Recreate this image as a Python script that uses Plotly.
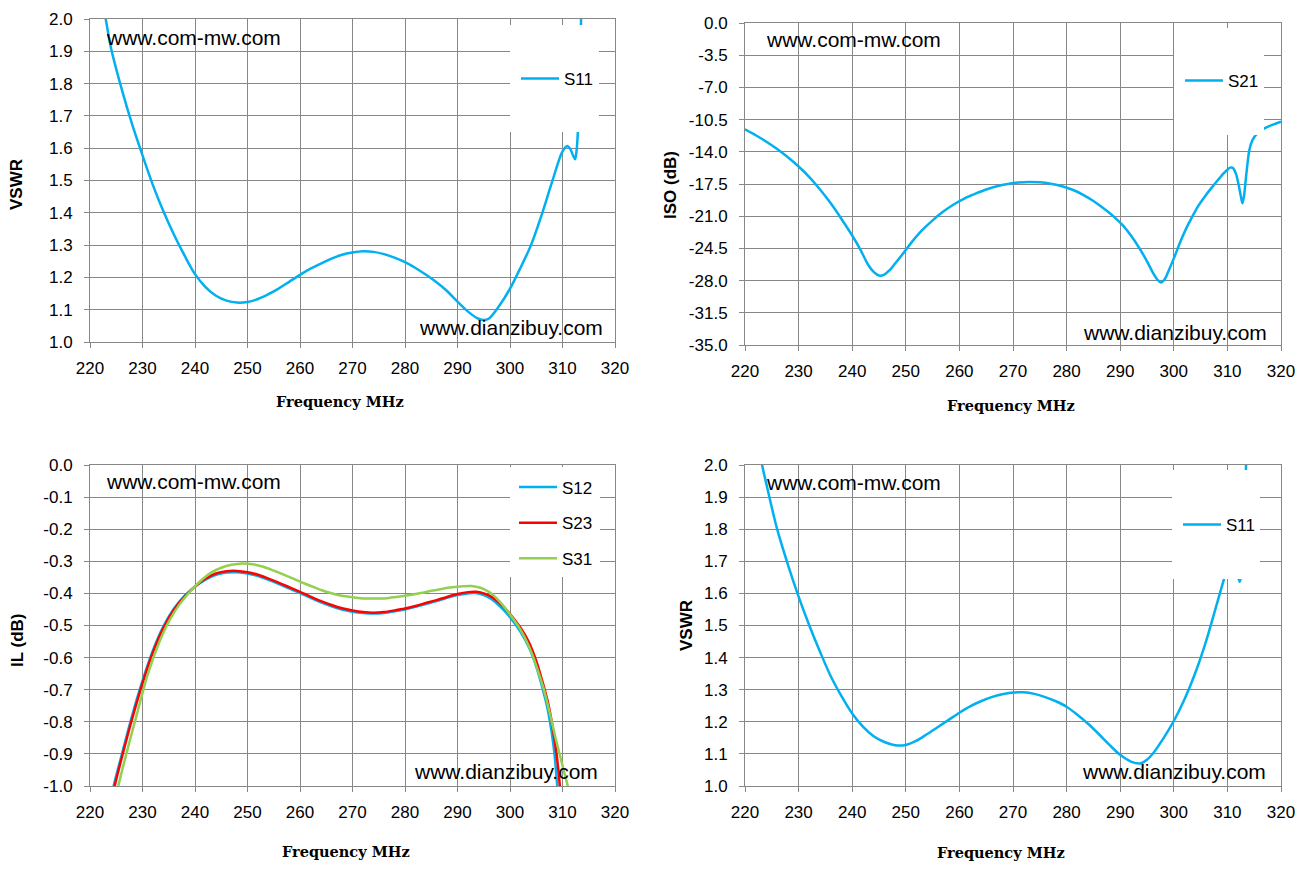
import plotly.graph_objects as go

# page is 1310x869; the html body has an 8px margin, so the figure is drawn 8px in
OFF = 8
W, H = 1310 - 2 * OFF, 869 - 2 * OFF

# ---------------- data ----------------
freq_ticks = [220, 230, 240, 250, 260, 270, 280, 290, 300, 310, 320]
vswr_ticks = [1.0, 1.1, 1.2, 1.3, 1.4, 1.5, 1.6, 1.7, 1.8, 1.9, 2.0]
iso_ticks = [-35.0, -31.5, -28.0, -24.5, -21.0, -17.5, -14.0, -10.5, -7.0, -3.5, 0.0]
il_ticks = [-1.0, -0.9, -0.8, -0.7, -0.6, -0.5, -0.4, -0.3, -0.2, -0.1, 0.0]

# Top-left VSWR S11
f_s11_a = [222.7, 223.0, 224, 226, 228, 230, 232, 234, 236, 238, 240, 242, 244, 246, 248,
           250, 252, 254, 256, 258, 260, 262, 264, 266, 268, 270, 272, 274, 276, 278, 280,
           282, 284, 286, 288, 290, 292, 294, 295, 296, 298, 300, 302, 304, 306, 308, 310,
           310.9, 311.5, 312.0, 312.4, 312.7, 312.95, 313.3, 313.7]
v_s11_a = [2.03, 2.00, 1.91, 1.785, 1.675, 1.578, 1.485, 1.404, 1.332, 1.268, 1.210, 1.170,
           1.143, 1.128, 1.122, 1.124, 1.133, 1.148, 1.166, 1.187, 1.208, 1.227, 1.243, 1.258,
           1.270, 1.277, 1.281, 1.279, 1.272, 1.261, 1.247, 1.229, 1.208, 1.185, 1.158, 1.125,
           1.094, 1.072, 1.068, 1.073, 1.113, 1.165, 1.230, 1.300, 1.392, 1.495, 1.590,
           1.607, 1.597, 1.578, 1.566, 1.595, 1.660, 1.85, 2.10]

# Top-right ISO S21
f_s21 = [220, 222, 224, 226, 228, 230, 232, 234, 236, 238, 240, 241.5, 243, 244, 245, 246,
         247, 248, 249.5, 251, 253, 255, 257, 259, 261, 263, 265, 267, 269, 271, 273, 275,
         277, 279, 281, 283, 285, 287, 289, 290.5, 292, 293.5, 295, 296.2, 297, 297.6,
         298.3, 299.2, 300.1, 301.2, 302.3, 303.4, 304.6, 305.8, 307, 308.2, 309.3, 310.0,
         310.5, 311.0, 311.6, 312.1, 312.5, 312.8, 313.1, 313.5, 314.1, 314.7, 315.6,
         316.9, 318.5, 320]
iso_s21 = [-11.56, -12.2, -12.9, -13.7, -14.6, -15.6, -16.75, -18.1, -19.6, -21.3, -23.1,
           -24.6, -26.3, -27.05, -27.45, -27.35, -26.85, -26.15, -25.05, -23.9, -22.55,
           -21.45, -20.5, -19.7, -19.05, -18.55, -18.1, -17.75, -17.5, -17.33, -17.27,
           -17.32, -17.47, -17.72, -18.1, -18.65, -19.35, -20.2, -21.15, -22.0, -23.1,
           -24.4, -25.9, -27.25, -27.95, -28.2, -27.85, -26.7, -25.45, -23.8, -22.35,
           -21.1, -19.85, -18.85, -17.95, -17.1, -16.35, -15.95, -15.72, -15.75, -16.4,
           -17.6, -18.8, -19.6, -18.8, -16.6, -13.8, -12.7, -12.0, -11.45, -11.05, -10.72]

# Bottom-left IL
f_s12 = [224.3, 224.5, 226, 228, 230, 232, 234, 236, 238, 240, 242, 244, 246, 248, 250,
         252, 254, 256, 258, 260, 262, 264, 266, 268, 270, 272, 274, 276, 278, 280, 282,
         284, 286, 288, 290, 292, 293.5, 295, 296.5, 298, 300, 302, 303.6, 305, 306.1,
         307.2, 308, 308.5, 309.0, 309.1]
il_s12 = [-1.02, -1.0, -0.905, -0.782, -0.672, -0.577, -0.502, -0.447, -0.408, -0.379,
          -0.357, -0.342, -0.335, -0.334, -0.338, -0.346, -0.358, -0.371, -0.385, -0.399,
          -0.414, -0.428, -0.440, -0.450, -0.457, -0.461, -0.463, -0.461, -0.456, -0.450,
          -0.442, -0.433, -0.424, -0.414, -0.405, -0.400, -0.399, -0.405, -0.418, -0.439,
          -0.474, -0.520, -0.568, -0.628, -0.690, -0.763, -0.840, -0.905, -1.0, -1.02]

f_s23 = [224.5, 224.7, 226, 228, 230, 232, 234, 236, 238, 240, 242, 244, 246, 248, 250,
         252, 254, 256, 258, 260, 262, 264, 266, 268, 270, 272, 274, 276, 278, 280, 282,
         284, 286, 288, 290, 292, 293.5, 295, 296.5, 298, 300, 302, 303.6, 305, 306.1,
         307.2, 308.1, 308.9, 309.5, 309.6]
il_s23 = [-1.02, -1.0, -0.915, -0.792, -0.680, -0.583, -0.507, -0.451, -0.410, -0.378,
          -0.354, -0.338, -0.331, -0.330, -0.334, -0.342, -0.354, -0.367, -0.381, -0.395,
          -0.410, -0.424, -0.436, -0.446, -0.453, -0.458, -0.460, -0.458, -0.453, -0.447,
          -0.439, -0.430, -0.421, -0.411, -0.402, -0.396, -0.395, -0.400, -0.411, -0.430,
          -0.464, -0.507, -0.552, -0.610, -0.670, -0.738, -0.815, -0.905, -1.0, -1.02]

f_s31 = [225.2, 225.4, 227, 229, 231, 233, 235, 237, 239, 241, 243, 245, 247, 249, 251,
         253, 255, 257, 259, 261, 263, 265, 267, 269, 271, 273, 275, 277, 279, 281, 283,
         285, 287, 289, 291, 292.6, 294, 295.2, 296.5, 298, 300, 302, 303.6, 305, 306.5,
         307.6, 308.7, 309.9, 311.0, 311.1]
il_s31 = [-1.02, -1.0, -0.895, -0.772, -0.652, -0.560, -0.488, -0.435, -0.395, -0.362,
          -0.336, -0.320, -0.311, -0.307, -0.309, -0.317, -0.329, -0.342, -0.356, -0.370,
          -0.383, -0.395, -0.404, -0.410, -0.414, -0.416, -0.416, -0.414, -0.410, -0.405,
          -0.399, -0.392, -0.386, -0.381, -0.378, -0.377, -0.381, -0.388, -0.401, -0.425,
          -0.466, -0.513, -0.565, -0.625, -0.702, -0.775, -0.852, -0.930, -1.0, -1.01]

# Bottom-right VSWR S11
f_s11_b = [222.9, 223.2, 224, 226, 228, 230, 232, 234, 236, 238, 240, 242, 244, 246, 248,
           250, 252, 254, 256, 258, 260, 262, 264, 266, 268, 270, 272, 274, 276, 278, 280,
           282, 284, 286, 288, 290, 292, 293.75, 295, 296, 298, 300, 302, 304, 306, 308,
           309.4, 310.2, 310.9, 311.6, 312.3, 312.8, 313.2, 313.6]
v_s11_b = [2.04, 2.00, 1.94, 1.80, 1.69, 1.59, 1.50, 1.418, 1.342, 1.280, 1.226, 1.185,
           1.155, 1.137, 1.127, 1.128, 1.141, 1.162, 1.184, 1.206, 1.228, 1.248, 1.264,
           1.277, 1.286, 1.291, 1.292, 1.287, 1.277, 1.264, 1.247, 1.222, 1.194, 1.162,
           1.128, 1.097, 1.076, 1.070, 1.082, 1.099, 1.147, 1.2025, 1.270, 1.352, 1.450,
           1.565, 1.647, 1.690, 1.705, 1.680, 1.636, 1.720, 1.88, 2.05]

# ---------------- style ----------------
BLUE, RED, GREEN = "#00B0F0", "#FF0000", "#92D050"
GRID = "#878787"
TICKFONT = dict(family="Liberation Sans, Arial, sans-serif", size=17, color="#000000")
WMFONT = dict(family="Liberation Sans, Arial, sans-serif", size=21, color="#000000")
YTFONT = dict(family="Liberation Sans, Arial, sans-serif", size=17, color="#000000")
XTFONT = dict(family="DejaVu Serif, serif", size=14.5, color="#000000")
LEGFONT = dict(family="Liberation Sans, Arial, sans-serif", size=17, color="#000000")


def px(x):
    return (x - OFF) / W


def py(y):
    return 1 - (y - OFF) / H


fig = go.Figure()

LW = 2.5
SM = 0.9
fig.add_trace(go.Scatter(x=f_s11_a, y=v_s11_a, name="S11", mode="lines",
                         line=dict(color=BLUE, width=LW, shape="spline", smoothing=SM),
                         xaxis="x", yaxis="y", legend="legend"))
fig.add_trace(go.Scatter(x=f_s21, y=iso_s21, name="S21", mode="lines",
                         line=dict(color=BLUE, width=LW, shape="spline", smoothing=SM),
                         xaxis="x2", yaxis="y2", legend="legend2"))
fig.add_trace(go.Scatter(x=f_s12, y=il_s12, name="S12", mode="lines", legendgroup="a",
                         line=dict(color=BLUE, width=LW, shape="spline", smoothing=SM),
                         xaxis="x3", yaxis="y3", legend="legend3"))
fig.add_trace(go.Scatter(x=f_s23, y=il_s23, name="S23", mode="lines", legendgroup="b",
                         line=dict(color=RED, width=LW, shape="spline", smoothing=SM),
                         xaxis="x3", yaxis="y3", legend="legend3"))
fig.add_trace(go.Scatter(x=f_s31, y=il_s31, name="S31", mode="lines", legendgroup="c",
                         line=dict(color=GREEN, width=LW, shape="spline", smoothing=SM),
                         xaxis="x3", yaxis="y3", legend="legend3"))
fig.add_trace(go.Scatter(x=f_s11_b, y=v_s11_b, name="S11", mode="lines",
                         line=dict(color=BLUE, width=LW, shape="spline", smoothing=SM),
                         xaxis="x4", yaxis="y4", legend="legend4"))


def xax(l, r, anchor):
    return dict(domain=[px(l), px(r)], anchor=anchor, range=[220, 320], automargin=False,
                tickvals=freq_ticks, ticktext=[str(v) for v in freq_ticks],
                showgrid=True, gridcolor=GRID, gridwidth=1,
                showline=True, linecolor=GRID, linewidth=1, mirror=True,
                ticks="outside", ticklen=5, tickcolor=GRID, tickwidth=1,
                tickfont=TICKFONT, ticklabelstandoff=6, zeroline=False, fixedrange=True)


def yax(t, b, anchor, rng, vals):
    return dict(domain=[py(b), py(t)], anchor=anchor, range=rng, automargin=False,
                tickvals=vals, ticktext=[f"{v:.1f}" for v in vals],
                showgrid=True, gridcolor=GRID, gridwidth=1,
                showline=True, linecolor=GRID, linewidth=1, mirror=True,
                ticks="outside", ticklen=5, tickcolor=GRID, tickwidth=1,
                tickfont=TICKFONT, ticklabelstandoff=8, zeroline=False, fixedrange=True)


legcommon = dict(bgcolor="rgba(0,0,0,0)", borderwidth=0, font=LEGFONT, itemwidth=38,
                 xanchor="left", yanchor="middle", xref="paper", yref="paper")

fig.update_layout(
    width=W, height=H, margin=dict(l=0, r=0, t=0, b=0, autoexpand=False),
    paper_bgcolor="white", plot_bgcolor="white", showlegend=True,
    xaxis=xax(90, 615, "y"),
    yaxis=yax(19, 342, "x", [1, 2], vswr_ticks),
    xaxis2=xax(745, 1281, "y2"),
    yaxis2=yax(23, 345, "x2", [-35, 0], iso_ticks),
    xaxis3=xax(90, 615, "y3"),
    yaxis3=yax(465, 786, "x3", [-1, 0], il_ticks),
    xaxis4=xax(745, 1281, "y4"),
    yaxis4=yax(465, 786, "x4", [1, 2], vswr_ticks),
    legend=dict(x=px(516), y=py(79), **legcommon),
    legend2=dict(x=px(1180), y=py(81), **legcommon),
    legend3=dict(x=px(514), y=py(523), tracegroupgap=10.5, **legcommon),
    legend4=dict(x=px(1178), y=py(525), **legcommon),
)

# white legend areas covering the grid and curves
boxes = [(510, 25, 599, 132), (1174, 28, 1264, 135), (510, 467, 600, 577), (1172, 470, 1260, 579)]
shapes = []
for (l, t, r, b) in boxes:
    shapes.append(dict(type="rect", xref="paper", yref="paper", x0=px(l), x1=px(r),
                       y0=py(b), y1=py(t), fillcolor="white", line=dict(width=0), layer="above"))
fig.update_layout(shapes=shapes)

ann = []
# watermarks
for (x, y) in [(104, 37), (764, 40), (104, 481), (764, 482)]:
    ann.append(dict(text="www.com-mw.com", x=px(x), y=py(y), xref="paper", yref="paper",
                    xanchor="left", yanchor="middle", showarrow=False, font=WMFONT))
for (x, y) in [(605, 327), (1269, 332), (600, 771), (1268, 771)]:
    ann.append(dict(text="www.dianzibuy.com", x=px(x), y=py(y), xref="paper", yref="paper",
                    xanchor="right", yanchor="middle", showarrow=False, font=WMFONT))
# x titles
for (x, y) in [(340, 401), (1011, 405), (346, 851), (1001, 852)]:
    ann.append(dict(text="<b>Frequency MHz</b>", x=px(x), y=py(y), xref="paper", yref="paper",
                    xanchor="center", yanchor="middle", showarrow=False, font=XTFONT))
# y titles
for (txt, x, y) in [("VSWR", 16, 185), ("ISO (dB)", 670, 185), ("IL (dB)", 17, 640), ("VSWR", 686, 626)]:
    ann.append(dict(text=f"<b>{txt}</b>", x=px(x), y=py(y), xref="paper", yref="paper",
                    xanchor="center", yanchor="middle", textangle=-90, showarrow=False, font=YTFONT))
fig.update_layout(annotations=ann)

fig.write_html("out.html")
